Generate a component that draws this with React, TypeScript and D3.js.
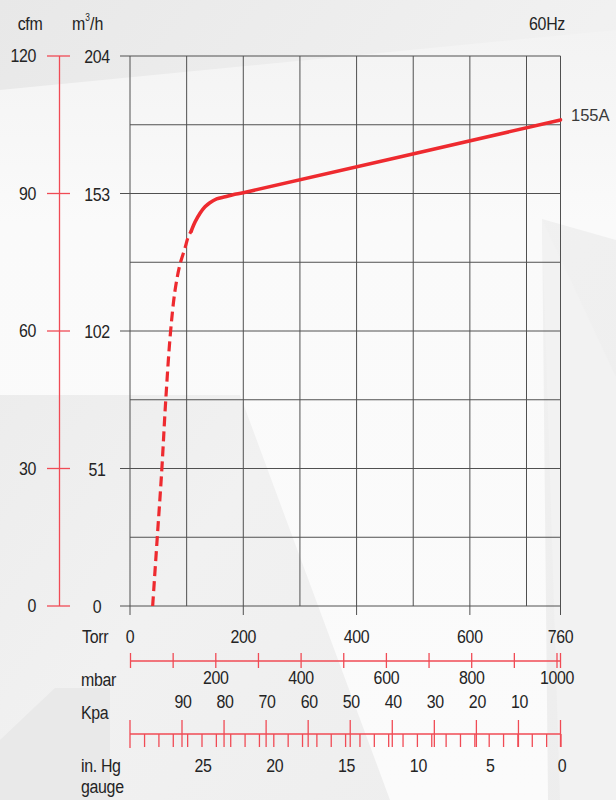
import React from "react";
import * as d3 from "d3";

// ---- data ----
const torrLabels = [0, 200, 400, 600, 760];
const torrGrid = [0, 100, 200, 300, 400, 500, 600, 700, 760];
const m3hLabels = [0, 51, 102, 153, 204];
const m3hGrid = [0, 25.5, 51, 76.5, 102, 127.5, 153, 178.5, 204];
const cfmLabels = [0, 30, 60, 90, 120];
const mbarTicks = [0, 100, 200, 300, 400, 500, 600, 700, 800, 900, 1000];
const mbarLabels = [200, 400, 600, 800, 1000];
const kpaTicks = [90, 80, 70, 60, 50, 40, 30, 20, 10, 0];
const inHgTicks = Array.from({ length: 30 }, (_, i) => i);
const inHgLabels = [25, 20, 15, 10, 5, 0];

// curve: [Torr, m3/h]
const dashedCurve: [number, number][] = [
  [40, 0], [48, 25], [56, 50], [63, 76], [71.5, 101.5], [79.5, 117],
  [88, 126.5], [97, 132.7], [103, 137], [108, 139],
];
const solidCurve: [number, number][] = [
  [108, 139], [115, 142.5], [123.6, 145.7], [132.4, 148.1], [141, 149.6],
  [153, 151], [168, 151.8], [185, 152.7], [200, 153.3], [760, 180.3],
];
const curveLabel = "155A";
const freqLabel = "60Hz";

const RED = "#f04b55";
const CURVE = "#ee2a2f";
const GRID = "#505050";
const TXT = "#242424";
const FONT = "'Liberation Sans', Arial, sans-serif";
const FS = 19;
const SX = 0.84;

export default function App() {
  const x = d3.scaleLinear().domain([0, 760]).range([130, 560.5]);
  const y = d3.scaleLinear().domain([0, 204]).range([606, 56]);
  const yc = d3.scaleLinear().domain([0, 120]).range([606, 56]);
  const xm = d3.scaleLinear().domain([0, 1000]).range([130.5, 557]);
  const xk = d3.scaleLinear().domain([0, 90]).range([560.5, 182]);
  const xh = d3.scaleLinear().domain([0, 25]).range([561, 202]);

  const line = d3
    .line<[number, number]>()
    .x((d) => x(d[0]))
    .y((d) => y(d[1]))
    .curve(d3.curveCatmullRom.alpha(0.5));

  const x0 = x(0);
  const x1 = x(760);
  const yTop = y(204);
  const yBot = y(0);
  const yMbar = 661;
  const yKpa = 734;

  const txt = (px: number, py: number, s: React.ReactNode, anchor: string = "start", key?: string) => (
    <text
      key={key}
      transform={`translate(${px},${py}) scale(${SX},1)`}
      fontFamily={FONT}
      fontSize={FS}
      fill={TXT}
      textAnchor={anchor}
      dominantBaseline="central"
      letterSpacing={-0.4}
    >
      {s}
    </text>
  );

  return (
    <svg width={616} height={800} style={{ position: "absolute", left: 0, top: 0, display: "block" }}>
      <defs>
        <linearGradient id="bg" x1="0" y1="0" x2="1" y2="1">
          <stop offset="0" stopColor="#e8e8e8" />
          <stop offset="0.5" stopColor="#f1f1f1" />
          <stop offset="1" stopColor="#ededed" />
        </linearGradient>
        <linearGradient id="wh" x1="0" y1="0" x2="0" y2="1">
          <stop offset="0" stopColor="#f3f3f3" />
          <stop offset="0.25" stopColor="#fafafa" />
          <stop offset="1" stopColor="#fbfbfb" />
        </linearGradient>
      </defs>
      {/* background decoration */}
      <rect x={0} y={0} width={616} height={800} fill="url(#bg)" />
      <polygon points="0,90 616,30 616,240 542,219 548,800 390,800 240,395 0,395" fill="url(#wh)" />
      <polygon points="542,219 616,377 616,800 560,800" fill="#f2f2f2" />
      <polygon points="0,740 55,688 110,688 110,800 0,800" fill="#e9e9e9" />

      {/* grid */}
      {m3hGrid.map((v) => (
        <line key={"h" + v} x1={m3hLabels.includes(v) ? 120 : x0} x2={x1} y1={y(v)} y2={y(v)} stroke={GRID} strokeWidth={1} />
      ))}
      {torrGrid.map((v) => (
        <line key={"v" + v} x1={x(v)} x2={x(v)} y1={yTop} y2={torrLabels.includes(v) ? 615 : yBot} stroke={GRID} strokeWidth={1} />
      ))}

      {/* left red axis */}
      <line x1={59.5} x2={59.5} y1={yc(120)} y2={yc(0)} stroke={RED} strokeWidth={1.3} />
      {cfmLabels.map((v) => (
        <g key={"c" + v}>
          <line x1={47} x2={70} y1={yc(v)} y2={yc(v)} stroke={RED} strokeWidth={1.3} />
          {txt(36, yc(v), v, "end")}
        </g>
      ))}
      {m3hLabels.map((v) => txt(97, y(v) + 1, v, "middle", "m" + v))}
      {txt(30, 24, "cfm", "middle")}
      <text transform={`translate(72,30) scale(${SX},1)`} fontFamily={FONT} fontSize={FS} fill={TXT}>
        m<tspan fontSize={10} dy={-9}>3</tspan><tspan dy={9}>/h</tspan>
      </text>
      {txt(547, 24, freqLabel, "middle")}

      {/* curve */}
      <path d={line(dashedCurve) || ""} fill="none" stroke={CURVE} strokeWidth={3.2} strokeDasharray="10,5" />
      <path d={line(solidCurve) || ""} fill="none" stroke={CURVE} strokeWidth={3.6} strokeLinecap="round" />
      <text x={571} y={115} fontFamily={FONT} fontSize={16.5} fill="#3a3a3a" dominantBaseline="central">{curveLabel}</text>

      {/* Torr labels */}
      {txt(82, 637, "Torr")}
      {torrLabels.map((v) => txt(x(v), 637, v, "middle", "t" + v))}

      {/* mbar axis */}
      <line x1={x0} x2={x1} y1={yMbar} y2={yMbar} stroke={RED} strokeWidth={1.3} />
      {mbarTicks.map((v) => (
        <line key={"mb" + v} x1={xm(v)} x2={xm(v)} y1={653} y2={668} stroke={RED} strokeWidth={1.3} />
      ))}
      <line x1={x1} x2={x1} y1={653} y2={668} stroke={RED} strokeWidth={1.3} />
      {txt(81, 680, "mbar")}
      {mbarLabels.map((v) => txt(xm(v), 678, v, "middle", "ml" + v))}

      {/* Kpa / in.Hg axis */}
      {txt(81, 713, "Kpa")}
      {kpaTicks.filter((v) => v > 0).map((v) => txt(xk(v) + 1, 702, v, "middle", "kl" + v))}
      <line x1={x0} x2={x1} y1={yKpa} y2={yKpa} stroke={RED} strokeWidth={1.3} />
      {inHgTicks.map((v) => (
        <line key={"ih" + v} x1={xh(v)} x2={xh(v)} y1={yKpa} y2={747} stroke={RED} strokeWidth={1.3} />
      ))}
      {kpaTicks.map((v) => (
        <line key={"kt" + v} x1={xk(v)} x2={xk(v)} y1={720} y2={747} stroke={RED} strokeWidth={1.3} />
      ))}
      <line x1={x0} x2={x0} y1={720} y2={748} stroke={RED} strokeWidth={1.3} />
      {txt(81, 766, "in. Hg")}
      {txt(81, 787, "gauge")}
      {inHgLabels.map((v) => txt(xh(v) + 1, 766, v, "middle", "hl" + v))}
    </svg>
  );
}
